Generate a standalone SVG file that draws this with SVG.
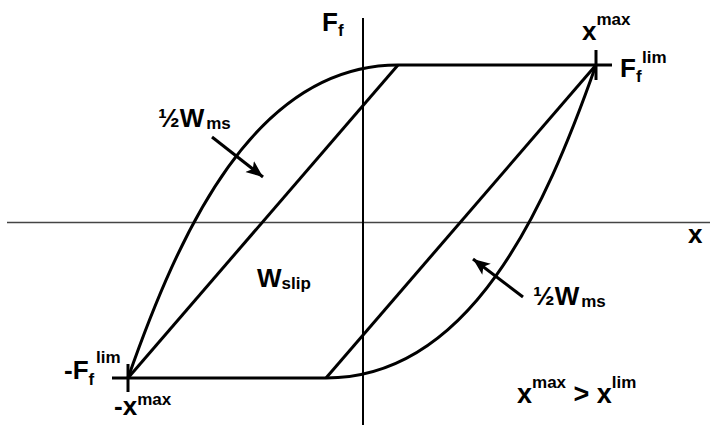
<svg xmlns="http://www.w3.org/2000/svg" width="710" height="425" viewBox="0 0 710 425">
<style>
.ln{fill:none;stroke:#000;stroke-width:3;stroke-linecap:butt}
.ax{fill:none;stroke:#000;stroke-width:2}
.hx{fill:none;stroke:#444;stroke-width:1.5}
text{font-family:"Liberation Sans",Arial,sans-serif;fill:#000;font-weight:bold}
.big{font-size:26px}
.sm{font-size:17px}
</style>
<defs>
<marker id="ah" markerUnits="userSpaceOnUse" markerWidth="20" markerHeight="16" viewBox="-17 -8 20 16" refX="0" refY="0" orient="auto">
<path d="M0,0 L-17,-7 L-13,0 L-17,7 Z" fill="#000"/>
</marker>
</defs>
<rect width="710" height="425" fill="#fff"/>
<g id="axes">
<line class="hx" x1="7" y1="222.5" x2="710" y2="222.5"/>
<line class="ax" x1="363" y1="18" x2="363" y2="425"/>
</g>
<g id="connectors">
<path class="ln" d="M398,65 C254,65 179,233 128,378"/>
<path class="ln" d="M326,378 C470,378 545,210 596,65"/>
<line class="ln" x1="128" y1="378" x2="398" y2="65"/>
<line class="ln" x1="326" y1="378" x2="596" y2="65"/>
<line class="ln" x1="398" y1="65" x2="612" y2="65"/>
<line class="ln" x1="596" y1="50" x2="596" y2="80"/>
<line class="ln" x1="112" y1="378" x2="326" y2="378"/>
<line class="ln" x1="128" y1="364" x2="128" y2="392"/>
<line x1="212" y1="137" x2="263" y2="177" stroke="#000" stroke-width="3" marker-end="url(#ah)"/>
<line x1="523" y1="297" x2="473" y2="259" stroke="#000" stroke-width="3" marker-end="url(#ah)"/>
</g>
<g id="label-Ff"><text class="big" x="322" y="31">F<tspan class="sm" dy="5">f</tspan></text></g>
<g id="label-x"><text class="big" x="688" y="243">x</text></g>
<g id="label-xmax-top"><text class="big" x="582" y="40">x<tspan class="sm" dy="-15">max</tspan></text></g>
<g id="label-Fflim-right"><text class="big" x="620" y="77">F<tspan class="sm" dy="5">f</tspan><tspan class="sm" x="642" dy="-19">lim</tspan></text></g>
<g id="label-Fflim-left"><text class="big" x="64" y="379">-F<tspan class="sm" dy="6">f</tspan><tspan class="sm" x="96" dy="-22">lim</tspan></text></g>
<g id="label-xmax-bottom"><text class="big" x="114" y="415">-x<tspan class="sm" dy="-10">max</tspan></text></g>
<g id="label-Wms-upper"><text class="big" x="158" y="127">½W<tspan class="sm" dx="2" dy="2">ms</tspan></text></g>
<g id="label-Wms-lower"><text class="big" x="533" y="305">½W<tspan class="sm" dx="2" dy="2">ms</tspan></text></g>
<g id="label-Wslip"><text class="big" x="257" y="287">W<tspan class="sm" dy="2">slip</tspan></text></g>
<g id="label-ineq"><text font-size="27" x="517" y="403">x<tspan class="sm" dy="-15">max</tspan><tspan dy="15"> &gt; x</tspan><tspan class="sm" dy="-15">lim</tspan></text></g>
</svg>
